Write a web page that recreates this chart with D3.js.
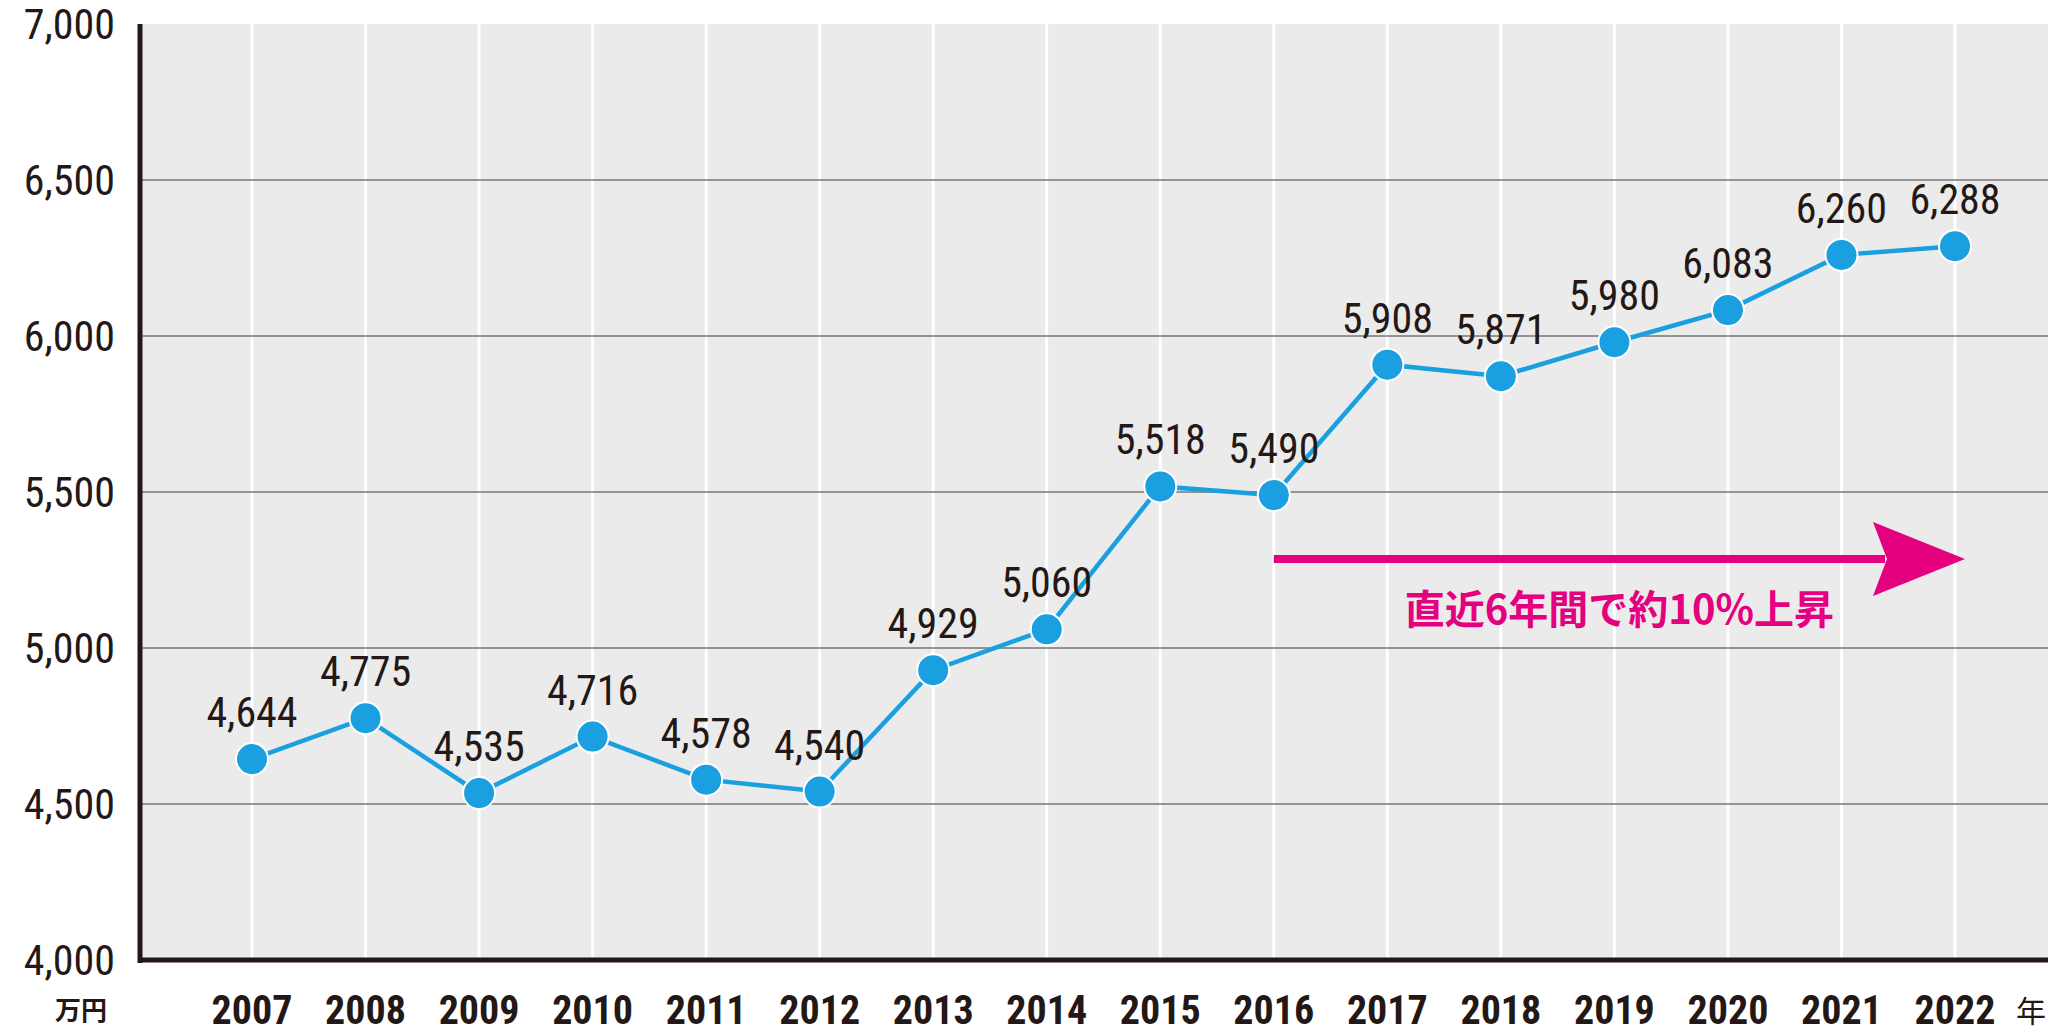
<!DOCTYPE html>
<html><head><meta charset="utf-8">
<script src="https://cdn.jsdelivr.net/npm/d3@7"></script>
<style>body{margin:0;background:#fff}</style>
</head><body>
<svg id="chart" width="2048" height="1032"></svg>
<script>
let years = [2007,2008,2009,2010,2011,2012,2013,2014,2015,2016,2017,2018,2019,2020,2021,2022];
let values = [4644,4775,4535,4716,4578,4540,4929,5060,5518,5490,5908,5871,5980,6083,6260,6288];
let yTicks = [4000,4500,5000,5500,6000,6500,7000];
let arrowYears = [2016,2022];
let arrowText = "直近6年間で約10%上昇";

let svg = d3.select("#chart");
let font = "'Liberation Sans Narrow','Roboto Condensed','Liberation Sans',sans-serif";
let plotLeft = 140, plotRight = 2048, plotTop = 24, plotBottom = 960;

let x = d3.scaleLinear().domain([2007,2022]).range([252,1955]);
let y = d3.scaleLinear().domain([4000,7000]).range([plotBottom, plotTop]);

// background
svg.append("rect").attr("x", plotLeft).attr("y", plotTop)
    .attr("width", plotRight-plotLeft).attr("height", plotBottom-plotTop).attr("fill", "#ebebeb");

// vertical grid
svg.append("g").selectAll("line").data(years).join("line")
    .attr("x1", d => x(d)).attr("x2", d => x(d))
    .attr("y1", plotTop).attr("y2", plotBottom)
    .attr("stroke", "#fff").attr("stroke-width", 3);

// horizontal grid
svg.append("g").selectAll("line").data(yTicks.slice(1,-1)).join("line")
    .attr("x1", plotLeft).attr("x2", plotRight)
    .attr("y1", d => y(d)).attr("y2", d => y(d))
    .attr("stroke", "#777").attr("stroke-width", 1.5);

// axes
svg.append("line").attr("x1", plotLeft).attr("x2", plotLeft).attr("y1", plotTop).attr("y2", plotBottom+3)
    .attr("stroke", "#231815").attr("stroke-width", 5);
svg.append("line").attr("x1", plotLeft-2).attr("x2", plotRight).attr("y1", plotBottom).attr("y2", plotBottom)
    .attr("stroke", "#231815").attr("stroke-width", 5);

// y labels
svg.append("g").selectAll("text").data(yTicks).join("text")
    .attr("x", 115).attr("y", d => y(d)+15)
    .attr("text-anchor", "end")
    .style("font-family", font).style("font-size", "42px").attr("fill", "#231815")
    .text(d => d3.format(",")(d));

// x labels
svg.append("g").selectAll("text").data(years).join("text")
    .attr("x", d => x(d)).attr("y", 1024)
    .attr("text-anchor", "middle")
    .style("font-family", font).style("font-size", "40px").style("font-weight", "bold").attr("fill", "#231815")
    .text(d => d);

svg.append("text").attr("x", 81).attr("y", 1020).attr("text-anchor", "middle")
    .style("font-family", "'Noto Sans CJK JP'").style("font-size", "26px").style("font-weight", "bold")
    .attr("fill", "#231815").text("万円");
svg.append("text").attr("x", 2031).attr("y", 1022).attr("text-anchor", "middle")
    .style("font-family", "'Noto Sans CJK JP'").style("font-size", "30px")
    .attr("fill", "#231815").text("年");

// line
let pts = years.map((d,i) => ({year: d, value: values[i]}));
svg.append("path").datum(pts)
    .attr("fill", "none").attr("stroke", "#1a9fe0").attr("stroke-width", 4.5)
    .attr("d", d3.line().x(d => x(d.year)).y(d => y(d.value)));

svg.append("g").selectAll("circle").data(pts).join("circle")
    .attr("cx", d => x(d.year)).attr("cy", d => y(d.value)).attr("r", 16)
    .attr("fill", "#1a9fe0").attr("stroke", "#fff").attr("stroke-width", 2);

// value labels
svg.append("g").selectAll("text").data(pts).join("text")
    .attr("x", d => x(d.year)).attr("y", d => y(d.value)-32)
    .attr("text-anchor", "middle")
    .style("font-family", font).style("font-size", "42px").attr("fill", "#231815")
    .text(d => d3.format(",")(d.value));

// annotation arrow
let ay = 559;
let ax1 = x(arrowYears[0]), ax2 = x(arrowYears[1]) + 10;
svg.append("line").attr("x1", ax1).attr("x2", ax2-80).attr("y1", ay).attr("y2", ay)
    .attr("stroke", "#e4007f").attr("stroke-width", 8);
svg.append("path")
    .attr("d", `M${ax2},${ay} L${ax2-92},${ay-37} L${ax2-78},${ay} L${ax2-92},${ay+37} Z`)
    .attr("fill", "#e4007f");
svg.append("text").attr("x", (ax1+ax2)/2).attr("y", 624).attr("text-anchor", "middle")
    .style("font-family", "'Noto Sans CJK JP'").style("font-size", "40px").style("font-weight", "bold")
    .attr("fill", "#e4007f").text(arrowText);
</script>
</body></html>
